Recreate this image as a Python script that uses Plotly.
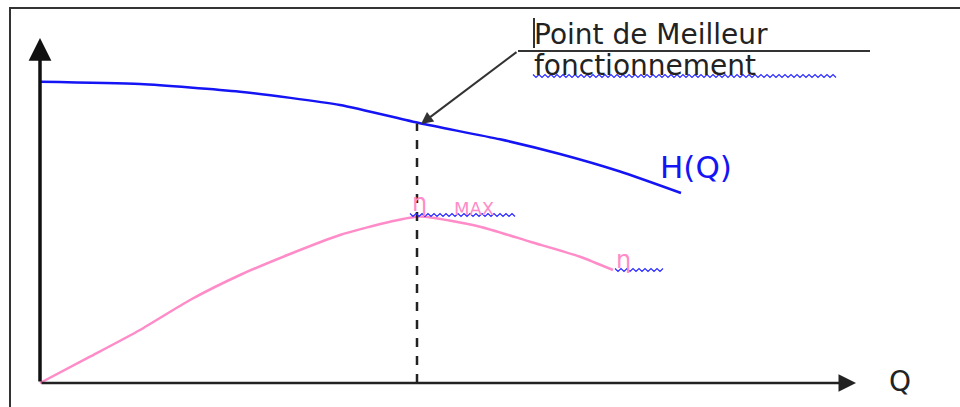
import plotly.graph_objects as go

# ---- data (Q in arbitrary units, H and eta in arbitrary units) ----
q_head = [0, 10, 20, 30, 38, 46, 52, 58, 64.1]
head = [30.13, 29.9, 29.13, 27.8, 25.97, 24.37, 22.9, 21.15, 19.0]

q_eff = [0, 5, 10, 15, 20, 25, 30, 35, 38, 44, 49, 54, 57.3]
eff = [0, 2.63, 5.3, 8.3, 10.8, 12.9, 14.8, 16.13, 16.65, 15.63, 14.13, 12.63, 11.3]

q_bep = 37.7
h_bep = 25.95

W, H = 960, 407


def X(px):
    return (px - 40) / 10.0


def Y(py):
    return (383 - py) / 10.0


BLUE = "#1414f5"
PINK = "#ff8cc8"
DARK = "#222222"
SQUIG = "#2a2aff"

fig = go.Figure()
fig.add_trace(go.Scatter(x=q_head, y=head, mode="lines",
                         line=dict(color=BLUE, width=2.5, shape="spline", smoothing=0.6),
                         hoverinfo="skip", showlegend=False))
fig.add_trace(go.Scatter(x=q_eff, y=eff, mode="lines",
                         line=dict(color=PINK, width=2.5, shape="spline", smoothing=0.6),
                         hoverinfo="skip", showlegend=False))

shapes = []
# frame
shapes.append(dict(type="rect", xref="x", yref="y", x0=X(10), x1=X(975), y0=Y(8), y1=Y(420),
                   line=dict(color="#333333", width=2), fillcolor="rgba(0,0,0,0)", layer="below"))
# dashed vertical at best efficiency point
shapes.append(dict(type="line", xref="x", yref="y", x0=q_bep, x1=q_bep, y0=0, y1=h_bep,
                   line=dict(color="#222222", width=2.5, dash="dash")))
# callout horizontal line
shapes.append(dict(type="line", xref="x", yref="y", x0=X(518), x1=X(870), y0=Y(51), y1=Y(51),
                   line=dict(color="#333333", width=2)))
# text cursor bar
shapes.append(dict(type="line", xref="x", yref="y", x0=X(534), x1=X(534), y0=Y(18), y1=Y(48),
                   line=dict(color="#333333", width=2)))


def squiggle(x0, x1, yc, amp=1.5, step=3):
    pts = []
    x = x0
    up = True
    while x <= x1:
        pts.append((X(x), Y(yc - amp if up else yc + amp)))
        up = not up
        x += step
    path = "M " + " L ".join(f"{a:.3f},{b:.3f}" for a, b in pts)
    return dict(type="path", xref="x", yref="y", path=path,
                line=dict(color=SQUIG, width=1.2))


shapes.append(squiggle(533, 838, 76))
shapes.append(squiggle(410, 516, 215))
shapes.append(squiggle(615, 663, 270))

annotations = []
# axes arrows
annotations.append(dict(x=0, y=Y(38), ax=0, ay=0, xref="x", yref="y", axref="x", ayref="y",
                        text="", showarrow=True, arrowhead=2, arrowsize=1.3, arrowwidth=3.5,
                        arrowcolor="#111111", standoff=0))
annotations.append(dict(x=X(856), y=0, ax=0, ay=0, xref="x", yref="y", axref="x", ayref="y",
                        text="", showarrow=True, arrowhead=2, arrowsize=1.4, arrowwidth=2.5,
                        arrowcolor="#222222", standoff=0))
# callout arrow
annotations.append(dict(x=X(421), y=Y(124), ax=X(518), ay=Y(51), xref="x", yref="y",
                        axref="x", ayref="y", text="", showarrow=True, arrowhead=2,
                        arrowsize=1.2, arrowwidth=2, arrowcolor="#333333", standoff=0))

FONT = "DejaVu Sans, Verdana, sans-serif"
annotations.append(dict(x=X(532), y=Y(34), xref="x", yref="y", text="Point de Meilleur",
                        showarrow=False, xanchor="left", yanchor="middle",
                        font=dict(family=FONT, size=28, color=DARK)))
annotations.append(dict(x=X(532), y=Y(65), xref="x", yref="y", text="fonctionnement",
                        showarrow=False, xanchor="left", yanchor="middle",
                        font=dict(family=FONT, size=28, color=DARK)))
annotations.append(dict(x=X(658), y=Y(167), xref="x", yref="y", text="H(Q)",
                        showarrow=False, xanchor="left", yanchor="middle",
                        font=dict(family=FONT, size=31, color=BLUE)))
annotations.append(dict(x=X(887), y=Y(381), xref="x", yref="y", text="Q",
                        showarrow=False, xanchor="left", yanchor="middle",
                        font=dict(family=FONT, size=28, color=DARK)))
annotations.append(dict(x=X(410), y=Y(203), xref="x", yref="y", text="η",
                        showarrow=False, xanchor="left", yanchor="middle",
                        font=dict(family=FONT, size=24, color=PINK)))
annotations.append(dict(x=X(452), y=Y(208), xref="x", yref="y", text="MAX",
                        showarrow=False, xanchor="left", yanchor="middle",
                        font=dict(family=FONT, size=18, color=PINK)))
annotations.append(dict(x=X(614), y=Y(260), xref="x", yref="y", text="η",
                        showarrow=False, xanchor="left", yanchor="middle",
                        font=dict(family=FONT, size=24, color=PINK)))

fig.update_layout(
    width=W, height=H,
    margin=dict(l=0, r=0, t=0, b=0),
    paper_bgcolor="white", plot_bgcolor="white",
    xaxis=dict(range=[X(0), X(W)], visible=False, fixedrange=True),
    yaxis=dict(range=[Y(H), Y(0)], visible=False, fixedrange=True),
    shapes=shapes, annotations=annotations,
    showlegend=False,
)

fig.write_html("out.html",
               config={"displayModeBar": False},
               post_script="document.body.style.margin='0';document.body.style.overflow='hidden';")
